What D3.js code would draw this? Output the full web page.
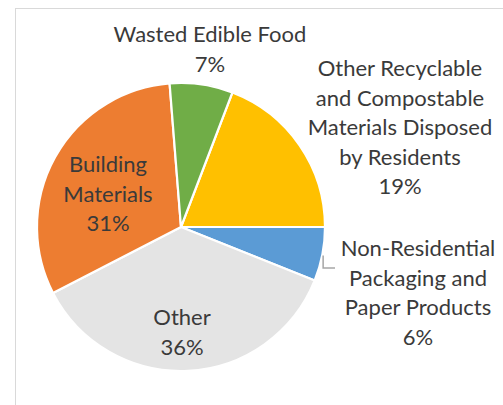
<!DOCTYPE html>
<html><head><meta charset="utf-8">
<script src="https://cdn.jsdelivr.net/npm/d3@7"></script>
<style>body{margin:0;background:#fff;}svg{display:block;}</style>
</head><body>
<svg id="c" width="503" height="405"></svg>
<script>
const categories = ["Other Recyclable and Compostable Materials Disposed by Residents","Non-Residential Packaging and Paper Products","Other","Building Materials","Wasted Edible Food"];
const values = [19, 6, 36, 31, 7];
const colors = ["#FFC000","#5B9BD5","#E4E4E4","#ED7D31","#70AD47"];
const labelLines = [["Other Recyclable","and Compostable","Materials Disposed","by Residents"],["Non-Residential","Packaging and","Paper Products"],["Other"],["Building","Materials"],["Wasted Edible Food"]];

const svg = d3.select("#c");
const cx = 181, cy = 227, R = 144;
const font = "Lato, 'Open Sans', sans-serif";
const fs = 22, lh = 29.5;

// chart area border
svg.append("rect").attr("x",15.5).attr("y",8.5).attr("width",600).attr("height",500)
  .attr("fill","none").attr("stroke","#D9D9D9").attr("stroke-width",1);

const total = d3.sum(values);
const yellowAngle = values[0]/total*2*Math.PI;
const pie = d3.pie().sort(null).startAngle(Math.PI/2 - yellowAngle).endAngle(Math.PI/2 - yellowAngle + 2*Math.PI);
const arcs = pie(values);
const arc = d3.arc().innerRadius(0).outerRadius(R);
const g = svg.append("g").attr("transform",`translate(${cx},${cy})`);
g.selectAll("path").data(arcs).join("path").attr("d",arc)
  .attr("fill",(d,i)=>colors[i]).attr("stroke","#fff").attr("stroke-width",2.2).attr("stroke-linejoin","round");

// label positions (center x, first baseline y)
const labelPos = [[400,76],[418,256],[182,325],[108,172],[210,42]];
labelLines.forEach((lines,i)=>{
  const t = svg.append("text").attr("font-family",font).attr("font-size",fs).attr("fill","#3A3A3A").attr("text-anchor","middle");
  const all = lines.concat([values[i]+"%"]);
  all.forEach((s,j)=>{
    t.append("tspan").attr("x",labelPos[i][0]).attr("y",labelPos[i][1]+j*lh).text(s);
  });
});

// leader line for the small blue slice
const a0 = arcs[1].startAngle + 0.2;
const p0 = [cx + R*Math.sin(a0), cy - R*Math.cos(a0)];
svg.append("path").attr("d",`M${p0[0]+1},${p0[1]} V268 H335`).attr("fill","none").attr("stroke","#A6A6A6").attr("stroke-width",1.5);
</script>
</body></html>
